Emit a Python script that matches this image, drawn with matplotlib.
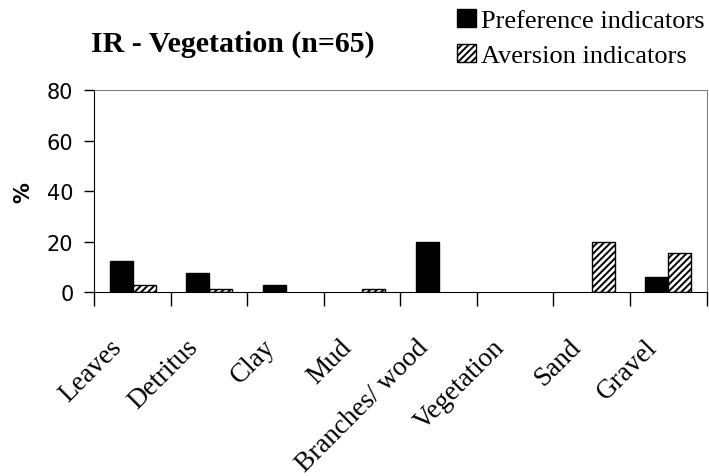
import numpy as np
import matplotlib
matplotlib.use("Agg")
import matplotlib.pyplot as plt
import matplotlib.transforms as mtransforms

# data (percent of n=65)
categories = ["Leaves", "Detritus", "Clay", "Mud", "Branches/ wood",
              "Vegetation", "Sand", "Gravel"]
preference = [12.3, 7.7, 3.1, 0, 20.0, 0, 0, 6.2]
aversion = [3.1, 1.5, 0, 1.5, 0, 0, 20.0, 15.4]

plt.rcParams["hatch.linewidth"] = 1.4
serif = ["Liberation Serif", "DejaVu Serif"]

fig = plt.figure(figsize=(7.09, 4.77), dpi=100)
ax = fig.add_axes([0.133, 0.385, 0.8635, 0.4242])

x = np.arange(len(categories))
w = 0.30
# no outline on empty bars
lw_pref = [1 if v > 0 else 0 for v in preference]
lw_av = [1 if v > 0 else 0 for v in aversion]
ax.bar(x - w / 2, preference, w, color="black", edgecolor="black",
       linewidth=lw_pref, label="Preference indicators")
ax.bar(x + w / 2, aversion, w, color="white", edgecolor="black",
       linewidth=lw_av, hatch="/////", label="Aversion indicators")

ax.set_xlim(-0.5, len(categories) - 0.5)
ax.set_ylim(0, 80)
ax.set_yticks([0, 20, 40, 60, 80])
ax.tick_params(axis="y", direction="out", length=7, width=1, pad=8,
               labelsize=15)

# category boundary ticks below the axis
ax.set_xticks(np.arange(-0.5, len(categories)), minor=True)
ax.set_xticks(x)
ax.tick_params(axis="x", which="minor", direction="out", length=10, width=1)
ax.tick_params(axis="x", which="major", length=0, pad=30)
ax.set_xticklabels(categories, rotation=45, ha="right", va="top",
                   family=serif, fontsize=19.5)
offset = mtransforms.ScaledTranslation(-4 / 72, 0, fig.dpi_scale_trans)
for lab in ax.get_xticklabels():
    lab.set_transform(lab.get_transform() + offset)

for side in ["top", "right"]:
    ax.spines[side].set_color("#808080")
ax.spines["left"].set_color("black")
ax.spines["bottom"].set_color("black")
ax.set_axisbelow(False)

ax.set_ylabel("%", fontsize=15, fontweight="bold")
ax.yaxis.set_label_coords(-0.0997, 0.5)

fig.text(0.329, 0.908, "IR - Vegetation (n=65)", family=serif,
         fontsize=21.5, fontweight="bold", ha="center", va="center")

leg = fig.legend(loc="upper left", bbox_to_anchor=(0.645, 0.979),
                 frameon=False, prop={"family": serif, "size": 19},
                 handlelength=0.7, handleheight=0.7, handletextpad=0.2,
                 labelspacing=0.42, borderpad=0, borderaxespad=0)

fig.savefig("out.png", dpi=100)
